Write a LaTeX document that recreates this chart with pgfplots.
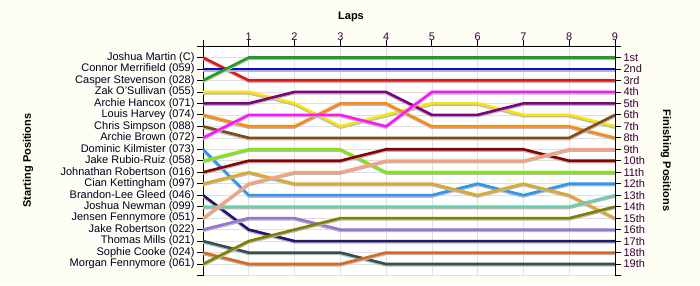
\documentclass[border=0pt]{standalone}
\usepackage{pgfplots}
\usepackage{pgfplotstable}
\usepackage{fontspec}
\setmainfont{Liberation Sans}
\pgfplotsset{compat=1.18}
\definecolor{bgc}{RGB}{253,253,243}
\definecolor{cRed}{RGB}{230,20,20}
\definecolor{cBlue}{RGB}{10,10,210}
\definecolor{cGreen}{RGB}{30,160,30}
\definecolor{cYellow}{RGB}{250,228,0}
\definecolor{cPurple}{RGB}{128,0,128}
\definecolor{cOrange}{RGB}{255,135,20}
\definecolor{cBrown}{RGB}{130,75,20}
\definecolor{cMagenta}{RGB}{255,20,255}
\definecolor{cLBlue}{RGB}{40,150,250}
\definecolor{cLime}{RGB}{130,230,10}
\definecolor{cDRed}{RGB}{140,0,0}
\definecolor{cGold}{RGB}{220,170,40}
\definecolor{cNavy}{RGB}{30,25,110}
\definecolor{cAqua}{RGB}{110,205,170}
\definecolor{cSalmon}{RGB}{250,160,125}
\definecolor{cMPurple}{RGB}{150,115,220}
\definecolor{cSlate}{RGB}{50,80,80}
\definecolor{cChoc}{RGB}{215,105,35}
\definecolor{cOlive}{RGB}{128,128,0}
\definecolor{lblc}{RGB}{55,0,60}
\pgfplotstableread{
lap JM CM CS ZO AH LH CSi AB DK JRR JR CK BLG JN JF JRo TM SC MF
0 1 2 3 4 5 6 7 8 9 10 11 12 13 14 15 16 17 18 19
1 3 2 1 4 5 7 8 6 13 9 10 11 16 14 12 15 18 19 17
2 3 2 1 5 4 7 8 6 13 9 10 12 17 14 11 15 18 19 16
3 3 2 1 7 4 5 8 6 13 9 10 12 17 14 11 16 18 19 15
4 3 2 1 6 4 5 8 7 13 11 9 12 17 14 10 16 19 18 15
5 3 2 1 5 6 7 8 4 13 11 9 12 17 14 10 16 19 18 15
6 3 2 1 5 6 7 8 4 12 11 9 13 17 14 10 16 19 18 15
7 3 2 1 6 5 7 8 4 13 11 9 12 17 14 10 16 19 18 15
8 3 2 1 6 5 7 8 4 12 11 10 13 17 14 9 16 19 18 15
9 3 2 1 7 5 8 6 4 12 11 10 15 17 13 9 16 19 18 14
}\laps
\begin{document}
\begin{tikzpicture}[x=1pt,y=1pt]
\fill[bgc] (0,0) rectangle (700,285);
\useasboundingbox (0,0) rectangle (700,285);
\pgfplotsset{
  common/.style={
    at={(203pt,9.5pt)}, anchor=south west,
    scale only axis, width=412pt, height=229.5pt,
    xmin=0, xmax=9, ymin=0, ymax=20, y dir=reverse,
    ytick={0,...,20},
    tick align=outside, major tick length=6pt,
    tick style={black, line width=0.8pt},
    axis line style={black, line width=0.8pt},
    tick label style={font=\fontsize{11}{13}\selectfont},
  }
}
\begin{axis}[common,
  axis x line*=top, axis y line*=left,
  axis background/.style={fill=white},
  xtick={0,...,9}, xticklabels={,1,2,3,4,5,6,7,8,9},
  xticklabel style={text=lblc, yshift=-4pt},
  yticklabels={,Joshua Martin (C),Connor Merrifield (059),Casper Stevenson (028),Zak O'Sullivan (055),Archie Hancox (071),Louis Harvey (074),Chris Simpson (088),Archie Brown (072),Dominic Kilmister (073),Jake Rubio-Ruiz (058),Johnathan Robertson (016),Cian Kettingham (097),Brandon-Lee Gleed (046),Joshua Newman (099),Jensen Fennymore (051),Jake Robertson (022),Thomas Mills (021),Sophie Cooke (024),Morgan Fennymore (061),},
  yticklabel style={text=black!85!blue, xshift=1pt},
  grid=major, major grid style={black!12, line width=0.6pt},
  every axis plot/.append style={line width=2.6pt, line join=round, no marks,
    preaction={draw=black!28, line width=2.4pt, transform canvas={yshift=-1.4pt}}},
]
\addplot[cRed] table[x=lap,y=JM]{\laps};
\addplot[cBlue] table[x=lap,y=CM]{\laps};
\addplot[cGreen] table[x=lap,y=CS]{\laps};
\addplot[cYellow] table[x=lap,y=ZO]{\laps};
\addplot[cPurple] table[x=lap,y=AH]{\laps};
\addplot[cOrange] table[x=lap,y=LH]{\laps};
\addplot[cBrown] table[x=lap,y=CSi]{\laps};
\addplot[cMagenta] table[x=lap,y=AB]{\laps};
\addplot[cLBlue] table[x=lap,y=DK]{\laps};
\addplot[cLime] table[x=lap,y=JRR]{\laps};
\addplot[cDRed] table[x=lap,y=JR]{\laps};
\addplot[cGold] table[x=lap,y=CK]{\laps};
\addplot[cNavy] table[x=lap,y=BLG]{\laps};
\addplot[cAqua] table[x=lap,y=JN]{\laps};
\addplot[cSalmon] table[x=lap,y=JF]{\laps};
\addplot[cMPurple] table[x=lap,y=JRo]{\laps};
\addplot[cSlate] table[x=lap,y=TM]{\laps};
\addplot[cChoc] table[x=lap,y=SC]{\laps};
\addplot[cOlive] table[x=lap,y=MF]{\laps};
\end{axis}
\begin{axis}[common,
  axis x line=none, axis y line*=right,
  yticklabels={,1st,2nd,3rd,4th,5th,6th,7th,8th,9th,10th,11th,12th,13th,14th,15th,16th,17th,18th,19th,},
  yticklabel style={text=lblc, xshift=-1pt},
]
\addplot[draw=none] coordinates {(0,1)};
\end{axis}
\node[font=\fontsize{11}{13}\selectfont\bfseries] at (351,268) {Laps};
\node[rotate=90, font=\fontsize{11}{13}\selectfont\bfseries] at (28,124.5) {Starting Positions};
\node[rotate=-90, font=\fontsize{11}{13}\selectfont\bfseries] at (666,124.5) {Finishing Positions};
\end{tikzpicture}
\end{document}
